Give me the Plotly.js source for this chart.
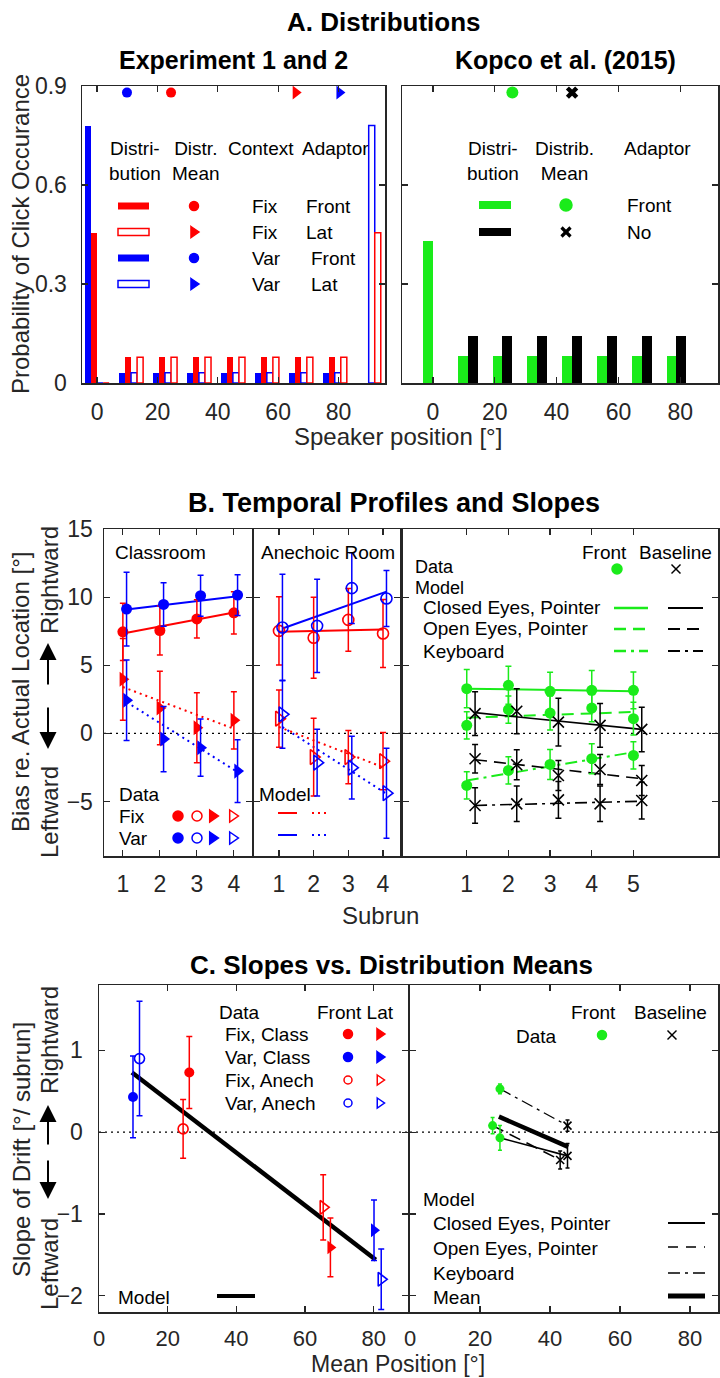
<!DOCTYPE html>
<html><head><meta charset="utf-8">
<script src="https://cdn.plot.ly/plotly-3.0.1.min.js"></script>
<style>body{margin:0;padding:0;background:#fff}#chart{width:720px;height:1378px}</style>
</head><body><div id="chart"></div>
<script>
// ================= DATA =================
// Panel A – Experiment 1 and 2 distributions
const expPositions = [0, 11.25, 22.5, 33.75, 45, 56.25, 67.5, 78.75, 90];
const fixFrontProb = [0.455, 0.078, 0.078, 0.078, 0.078, 0.078, 0.078, 0.078, 0];
const fixLatProb   = [0, 0.078, 0.078, 0.078, 0.078, 0.078, 0.078, 0.078, 0.455];
const varFrontProb = [0.78, 0.031, 0.031, 0.031, 0.031, 0.031, 0.031, 0.031, 0];
const varLatProb   = [0, 0.031, 0.031, 0.031, 0.031, 0.031, 0.031, 0.031, 0.78];
const expMeanNames = ['Fix Front', 'Fix Lat', 'Var Front', 'Var Lat'];
const expMeanPos   = [24.5, 65.8, 9.9, 80.3];
// Panel A – Kopco et al. (2015)
const kopcoPositions = [0, 11.25, 22.5, 33.75, 45, 56.25, 67.5, 78.75];
const kopcoFrontProb = [0.43, 0.0815, 0.0815, 0.0815, 0.0815, 0.0815, 0.0815, 0.0815];
const kopcoNoProb    = [0, 0.143, 0.143, 0.143, 0.143, 0.143, 0.143, 0.143];
const kopcoMeanNames = ['Front', 'No'];
const kopcoMeanPos   = [25.7, 45];
const meanMarkerLevel = 0.88;

// Panel B – Classroom
const subrunsB = [1, 2, 3, 4];
const classFixFront = [7.45, 7.55, 8.4, 8.85];
const classFixFrontErr = [2.1, 1.8, 1.4, 1.55];
const classVarFront = [9.12, 9.46, 10.1, 10.15];
const classVarFrontErr = [2.7, 1.6, 1.5, 1.5];
const classFixLat = [3.97, 1.86, 0.42, 0.96];
const classFixLatErr = [3.0, 2.7, 2.57, 2.1];
const classVarLat = [2.43, -0.42, -1.05, -2.77];
const classVarLatErr = [2.95, 2.4, 2.1, 2.3];
const modelSubrunsB = [1, 4];
const classFixFrontModel = [7.33, 8.87];
const classVarFrontModel = [9.1, 10.07];
const classFixLatModel = [3.4, 0.34];
const classVarLatModel = [2.3, -2.84];
// Panel B – Anechoic room
const anechFixFront = [7.52, 7.02, 8.33, 7.33];
const anechFixFrontErr = [2.5, 2.97, 2.3, 2.5];
const anechVarFront = [7.77, 7.89, 10.66, 9.9];
const anechVarFrontErr = [3.9, 3.43, 2.6, 2.05];
const anechFixLat = [1.08, -1.74, -1.74, -2.04];
const anechFixLatErr = [2.1, 2.85, 1.95, 2.1];
const anechVarLat = [1.4, -2.15, -2.52, -4.39];
const anechVarLatErr = [2.5, 2.45, 2.3, 3.3];
const anechFixFrontModel = [7.45, 7.62];
const anechVarFrontModel = [7.7, 10.4];
const anechFixLatModel = [0.47, -2.48];
const anechVarLatModel = [0.47, -4.43];
// Panel B – Kopco
const subrunsK = [1, 2, 3, 4, 5];
const frontClosed = [3.28, 3.53, 3.09, 3.16, 3.16];
const frontClosedErr = [1.4, 1.4, 1.4, 1.45, 1.35];
const frontOpen = [0.59, 1.74, 1.49, 1.86, 1.08];
const frontOpenErr = [1.0, 1.0, 1.25, 1.0, 1.2];
const frontKey = [-3.82, -2.72, -2.28, -1.86, -1.62];
const frontKeyErr = [1.0, 1.0, 1.1, 1.1, 1.0];
const baseClosed = [1.45, 1.62, 0.83, 0.59, 0.29];
const baseClosedErr = [1.6, 1.65, 1.75, 1.6, 1.63];
const baseOpen = [-1.86, -2.3, -3.09, -2.65, -3.46];
const baseOpenErr = [1.05, 1.1, 1.1, 1.1, 1.1];
const baseKey = [-5.29, -5.17, -4.88, -5.17, -4.93];
const baseKeyErr = [1.3, 1.3, 1.35, 1.3, 1.35];
const modelSubrunsK = [1, 5];
const frontClosedModel = [3.28, 3.1];
const frontOpenModel = [1.15, 1.57];
const frontKeyModel = [-3.46, -1.38];
const baseClosedModel = [1.52, 0.29];
const baseOpenModel = [-1.93, -3.33];
const baseKeyModel = [-5.29, -4.98];

// Panel C – slopes vs. distribution means (Exp 1 and 2)
const slopeGroups = ['Fix, Class', 'Var, Class', 'Fix, Anech', 'Var, Anech'];
const frontMeanPos = [26.3, 9.9, 24.5, 11.8];
const frontSlope = [0.73, 0.43, 0.04, 0.9];
const frontSlopeErr = [0.44, 0.5, 0.36, 0.7];
const latMeanPos = [67.4, 80.1, 65.3, 82.2];
const latSlope = [-1.41, -1.2, -0.92, -1.8];
const latSlopeErr = [0.36, 0.37, 0.4, 0.37];
const modelMeanPos = [9.6, 80.6];
const modelSlope = [0.73, -1.56];
// Panel C – Kopco
const kopcoConds = ['Closed Eyes, Pointer', 'Open Eyes, Pointer', 'Keyboard'];
const kFrontMeanPos = [25.7, 23.6, 25.7];
const kFrontSlope = [-0.07, 0.08, 0.53];
const kFrontSlopeErr = [0.15, 0.1, 0.06];
const kBaseMeanPos = [45, 42.9, 45];
const kBaseSlope = [-0.29, -0.34, 0.08];
const kBaseSlopeErr = [0.15, 0.11, 0.07];
const kMeanLinePos = [25.4, 45.2];
const kMeanLineSlope = [0.19, -0.18];

// ================= STYLE / HELPERS =================
const W = 720, H = 1378;
const FONT = 'Liberation Sans, Arial, Helvetica, sans-serif';
const RED = '#ff0000', BLUE = '#0000ff', GREEN = '#1aeb1a', BLACK = '#000000', AX = '#262626';
const fx = p => p / W;
const fy = p => 1 - p / H;
const DOT = '2px,4px', DASH = '12px,7px', DASHDOT = '12px,5px,3px,5px';

function baseAxis(d, r, extra) {
  return Object.assign({
    domain: d, range: r, showline: true, linecolor: AX, linewidth: 1.5, mirror: 'ticks',
    ticks: 'inside', ticklen: 6, tickwidth: 1.2, tickcolor: AX, showgrid: false, zeroline: false,
    tickfont: {family: FONT, size: 23, color: AX}, fixedrange: true
  }, extra || {});
}

const traces = [];
function err(arr, color, w) {
  return {type: 'data', array: arr, visible: true, color: color, thickness: 1.5, width: w || 3};
}
function pts(xa, ya, x, y, e, color, symbol, size, ew) {
  const open = symbol.indexOf('open') >= 0;
  traces.push({type: 'scatter', mode: 'markers', xaxis: xa, yaxis: ya, x: x, y: y,
    error_y: e ? err(e, color, ew) : undefined,
    marker: {symbol: symbol, color: color, size: size, line: {color: color, width: open ? 1.6 : 0}},
    hoverinfo: 'skip'});
}
function line(xa, ya, x, y, color, width, dash) {
  traces.push({type: 'scatter', mode: 'lines', xaxis: xa, yaxis: ya, x: x, y: y,
    line: {color: color, width: width, dash: dash || 'solid'}, hoverinfo: 'skip'});
}
const shift = (arr, d) => arr.map(v => v + d);

// ---------- Panel A bars ----------
function bars(xa, ya, x, y, color, filled, width, offset) {
  traces.push({type: 'bar', xaxis: xa, yaxis: ya, x: x, y: y, width: width, offset: offset,
    marker: {color: filled ? color : 'white', line: {color: color, width: filled ? 0 : 1.5}},
    hoverinfo: 'skip'});
}
bars('x', 'y', expPositions, varFrontProb, BLUE, true, 2, -4);
bars('x', 'y', expPositions, fixFrontProb, RED, true, 2, -2);
bars('x', 'y', expPositions, varLatProb, BLUE, false, 2, 0);
bars('x', 'y', expPositions, fixLatProb, RED, false, 2, 2);
const expMeanStyle = {
  'Fix Front': [RED, 'circle', 10], 'Fix Lat': [RED, 'triangle-right', 12],
  'Var Front': [BLUE, 'circle', 10], 'Var Lat': [BLUE, 'triangle-right', 12]
};
expMeanNames.forEach((n, i) => {
  const s = expMeanStyle[n];
  pts('x', 'y', [expMeanPos[i]], [meanMarkerLevel], null, s[0], s[1], s[2]);
});
bars('x2', 'y2', kopcoPositions, kopcoFrontProb, GREEN, true, 3.2, -3.2);
bars('x2', 'y2', kopcoPositions, kopcoNoProb, BLACK, true, 3.2, 0);
const kopcoMeanStyle = {'Front': [GREEN, 'circle', 12], 'No': [BLACK, 'x', 11]};
kopcoMeanNames.forEach((n, i) => {
  const s = kopcoMeanStyle[n];
  pts('x2', 'y2', [kopcoMeanPos[i]], [meanMarkerLevel], null, s[0], s[1], s[2]);
});

// ---------- Panel B ----------
const jit = 0.1;
line('x3', 'y3', modelSubrunsB, classFixFrontModel, RED, 2);
line('x3', 'y3', shift(modelSubrunsB, jit), classVarFrontModel, BLUE, 2);
line('x3', 'y3', modelSubrunsB, classFixLatModel, RED, 2, DOT);
line('x3', 'y3', shift(modelSubrunsB, jit), classVarLatModel, BLUE, 2, DOT);
pts('x3', 'y3', subrunsB, classFixFront, classFixFrontErr, RED, 'circle', 11);
pts('x3', 'y3', shift(subrunsB, jit), classVarFront, classVarFrontErr, BLUE, 'circle', 11);
pts('x3', 'y3', subrunsB, classFixLat, classFixLatErr, RED, 'triangle-right', 13);
pts('x3', 'y3', shift(subrunsB, jit), classVarLat, classVarLatErr, BLUE, 'triangle-right', 13);

line('x4', 'y4', modelSubrunsB, anechFixFrontModel, RED, 2);
line('x4', 'y4', shift(modelSubrunsB, jit), anechVarFrontModel, BLUE, 2);
line('x4', 'y4', modelSubrunsB, anechFixLatModel, RED, 2, DOT);
line('x4', 'y4', shift(modelSubrunsB, jit), anechVarLatModel, BLUE, 2, DOT);
pts('x4', 'y4', subrunsB, anechFixFront, anechFixFrontErr, RED, 'circle-open', 11);
pts('x4', 'y4', shift(subrunsB, jit), anechVarFront, anechVarFrontErr, BLUE, 'circle-open', 11);
pts('x4', 'y4', subrunsB, anechFixLat, anechFixLatErr, RED, 'triangle-right-open', 13);
pts('x4', 'y4', shift(subrunsB, jit), anechVarLat, anechVarLatErr, BLUE, 'triangle-right-open', 13);

const jitK = 0.2;
line('x5', 'y5', modelSubrunsK, frontClosedModel, GREEN, 2);
line('x5', 'y5', modelSubrunsK, frontOpenModel, GREEN, 2, DASH);
line('x5', 'y5', modelSubrunsK, frontKeyModel, GREEN, 2, DASHDOT);
line('x5', 'y5', shift(modelSubrunsK, jitK), baseClosedModel, BLACK, 1.6);
line('x5', 'y5', shift(modelSubrunsK, jitK), baseOpenModel, BLACK, 1.6, DASH);
line('x5', 'y5', shift(modelSubrunsK, jitK), baseKeyModel, BLACK, 1.6, DASHDOT);
pts('x5', 'y5', subrunsK, frontClosed, frontClosedErr, GREEN, 'circle', 11);
pts('x5', 'y5', subrunsK, frontOpen, frontOpenErr, GREEN, 'circle', 11);
pts('x5', 'y5', subrunsK, frontKey, frontKeyErr, GREEN, 'circle', 11);
pts('x5', 'y5', shift(subrunsK, jitK), baseClosed, baseClosedErr, BLACK, 'x-thin-open', 11);
pts('x5', 'y5', shift(subrunsK, jitK), baseOpen, baseOpenErr, BLACK, 'x-thin-open', 11);
pts('x5', 'y5', shift(subrunsK, jitK), baseKey, baseKeyErr, BLACK, 'x-thin-open', 11);

// ---------- Panel C ----------
line('x6', 'y6', modelMeanPos, modelSlope, BLACK, 4.5);
const groupStyle = {
  'Fix, Class': [RED, 'circle', 'triangle-right'],
  'Var, Class': [BLUE, 'circle', 'triangle-right'],
  'Fix, Anech': [RED, 'circle-open', 'triangle-right-open'],
  'Var, Anech': [BLUE, 'circle-open', 'triangle-right-open']
};
slopeGroups.forEach((g, i) => {
  const s = groupStyle[g];
  pts('x6', 'y6', [frontMeanPos[i]], [frontSlope[i]], [frontSlopeErr[i]], s[0], s[1], 10);
  pts('x6', 'y6', [latMeanPos[i]], [latSlope[i]], [latSlopeErr[i]], s[0], s[2], 12);
});
const condDash = {'Closed Eyes, Pointer': ['solid', 1.6], 'Open Eyes, Pointer': [DASH, 1.6], 'Keyboard': [DASHDOT, 1.3]};
kopcoConds.forEach((c, i) => {
  line('x7', 'y7', [kFrontMeanPos[i], kBaseMeanPos[i]], [kFrontSlope[i], kBaseSlope[i]], BLACK, condDash[c][1], condDash[c][0]);
});
line('x7', 'y7', kMeanLinePos, kMeanLineSlope, BLACK, 4.5);
pts('x7', 'y7', kFrontMeanPos, kFrontSlope, kFrontSlopeErr, GREEN, 'circle', 9, 2);
pts('x7', 'y7', kBaseMeanPos, kBaseSlope, kBaseSlopeErr, BLACK, 'x-thin-open', 8, 2);

// ================= ANNOTATIONS & LEGEND DECORATIONS =================
const ann = [];
const shapes = [];
function txt(t, x, y, size, opts) {
  ann.push(Object.assign({text: t, xref: 'paper', yref: 'paper', x: fx(x), y: fy(y),
    xanchor: 'left', yanchor: 'middle', showarrow: false,
    font: {family: FONT, size: size || 19, color: '#000'}}, opts || {}));
}
function title(t, x, y, size) {
  txt('<b>' + t + '</b>', x, y, size, {xanchor: 'center'});
}
function vtxt(t, x, y, size) {
  txt(t, x, y, size, {xanchor: 'center', textangle: -90, font: {family: FONT, size: size, color: AX}});
}
function arrow(x, yHead, yTail) {
  ann.push({text: '', xref: 'paper', yref: 'paper', x: fx(x), y: fy(yHead), ax: 0, ay: yTail - yHead,
    showarrow: true, arrowhead: 2, arrowsize: 1.7, arrowwidth: 2, arrowcolor: '#000'});
}
function lseg(x0, x1, y, color, width, dash) {
  shapes.push({type: 'line', xref: 'paper', yref: 'paper', x0: fx(x0), x1: fx(x1), y0: fy(y), y1: fy(y),
    line: {color: color, width: width, dash: dash || 'solid'}});
}
function lrect(x0, x1, y, h, color, filled) {
  shapes.push({type: 'rect', xref: 'paper', yref: 'paper', x0: fx(x0), x1: fx(x1), y0: fy(y + h / 2), y1: fy(y - h / 2),
    fillcolor: filled ? color : 'white', line: {color: color, width: filled ? 0 : 1.5}});
}
function lcirc(cx, cy, r, color, filled) {
  shapes.push({type: 'circle', xref: 'paper', yref: 'paper', x0: fx(cx - r), x1: fx(cx + r), y0: fy(cy + r), y1: fy(cy - r),
    fillcolor: filled ? color : 'white', line: {color: color, width: 1.5}});
}
function ltri(cx, cy, s, color, filled) {
  const p = `M ${fx(cx - 0.55 * s)} ${fy(cy - s)} L ${fx(cx + 0.9 * s)} ${fy(cy)} L ${fx(cx - 0.55 * s)} ${fy(cy + s)} Z`;
  shapes.push({type: 'path', xref: 'paper', yref: 'paper', path: p,
    fillcolor: filled ? color : 'white', line: {color: color, width: 1.5}});
}
function lx(cx, cy, s, color, w) {
  shapes.push({type: 'line', xref: 'paper', yref: 'paper', x0: fx(cx - s), x1: fx(cx + s), y0: fy(cy - s), y1: fy(cy + s), line: {color: color, width: w}});
  shapes.push({type: 'line', xref: 'paper', yref: 'paper', x0: fx(cx - s), x1: fx(cx + s), y0: fy(cy + s), y1: fy(cy - s), line: {color: color, width: w}});
}
function zeroLine(xa, ya) {
  shapes.push({type: 'line', xref: xa + ' domain', x0: 0, x1: 1, yref: ya, y0: 0, y1: 0,
    line: {color: '#000', width: 1.2, dash: DOT}, layer: 'below'});
}

// Titles
title('A. Distributions', 384, 22, 26);
title('Experiment 1 and 2', 233, 60, 25);
title('Kopco et al. (2015)', 565, 60, 25);
title('B. Temporal Profiles and Slopes', 394, 503, 27);
title('C. Slopes vs. Distribution Means', 392, 965, 26);

// Axis labels
vtxt('Probability of Click Occurance', 21, 234, 24);
txt('Speaker position [°]', 398, 436, 24, {xanchor: 'center', font: {family: FONT, size: 24, color: AX}});
vtxt('Bias re. Actual Location [°]', 21, 692, 24);
vtxt('Rightward', 49, 580, 24);
vtxt('Leftward', 49, 812, 24);
arrow(48, 643, 686);
arrow(48, 749, 706);
txt('Subrun', 380, 915, 24, {xanchor: 'center', font: {family: FONT, size: 24, color: AX}});
vtxt('Slope of Drift [°/ subrun]', 21, 1150, 24);
vtxt('Rightward', 49, 1040, 24);
vtxt('Leftward', 49, 1264, 24);
arrow(48, 1105, 1146);
arrow(48, 1199, 1159);
txt('Mean Position [°]', 398, 1364, 23, {xanchor: 'center', font: {family: FONT, size: 23, color: AX}});

// Panel A legend (Experiment 1 and 2)
txt('Distri-<br>bution', 107, 161);
txt('Distr.<br>Mean', 170, 161);
txt('Context', 226, 148);
txt('Adaptor', 300, 148);
const aRows = [206, 232, 258, 284];
lrect(118, 149, aRows[0], 7, RED, true);
lrect(118, 149, aRows[1], 7, RED, false);
lrect(118, 149, aRows[2], 7, BLUE, true);
lrect(118, 149, aRows[3], 7, BLUE, false);
lcirc(194, aRows[0], 4.5, RED, true);
ltri(194, aRows[1], 5.5, RED, true);
lcirc(194, aRows[2], 4.5, BLUE, true);
ltri(194, aRows[3], 5.5, BLUE, true);
txt('Fix', 250, aRows[0]); txt('Front', 304, aRows[0]);
txt('Fix', 250, aRows[1]); txt('Lat', 304, aRows[1]);
txt('Var', 250, aRows[2]); txt('Front', 309, aRows[2]);
txt('Var', 250, aRows[3]); txt('Lat', 309, aRows[3]);
// Panel A legend (Kopco)
txt('Distri-<br>bution', 465, 161);
txt('Distrib.<br>Mean', 533, 161);
txt('Adaptor', 622, 148);
lrect(479, 511, 205, 8, GREEN, true);
lrect(479, 511, 232, 8, BLACK, true);
lcirc(566, 205, 6, GREEN, true);
lx(566, 232, 4.5, BLACK, 3.2);
txt('Front', 625, 205);
txt('No', 625, 232);

// Panel B legends
txt('Classroom', 113, 552);
txt('Anechoic Room', 259, 552);
txt('Data', 117, 795);
txt('Fix', 117, 816);
txt('Var', 117, 838);
lcirc(178, 816, 5, RED, true); lcirc(197, 816, 5, RED, false);
ltri(213, 816, 6, RED, true); ltri(233, 816, 6, RED, false);
lcirc(178, 838, 5, BLUE, true); lcirc(197, 838, 5, BLUE, false);
ltri(213, 838, 6, BLUE, true); ltri(233, 838, 6, BLUE, false);
txt('Model', 257, 795);
lseg(278, 297, 813, RED, 2); lseg(312, 328, 813, RED, 2, DOT);
lseg(278, 297, 835, BLUE, 2); lseg(312, 328, 835, BLUE, 2, DOT);

txt('Front', 604, 552, 19, {xanchor: 'center'});
txt('Baseline', 675, 552, 19, {xanchor: 'center'});
txt('Data', 413, 567, 18);
lcirc(617, 569, 5, GREEN, true);
lx(676, 569, 4.5, BLACK, 1.5);
txt('Model', 413, 588, 18);
txt('Closed Eyes, Pointer', 421, 608);
txt('Open Eyes, Pointer', 421, 629);
txt('Keyboard', 421, 651);
lseg(614, 648, 608, GREEN, 2.5); lseg(668, 703, 608, BLACK, 1.8);
lseg(614, 648, 629, GREEN, 2.5, DASH); lseg(668, 703, 629, BLACK, 1.8, DASH);
lseg(614, 648, 651, GREEN, 2.5, DASHDOT); lseg(668, 703, 651, BLACK, 1.8, DASHDOT);

// Panel C legends
txt('Data', 217, 1012);
txt('Front Lat', 315, 1012);
const cRows = [1034, 1057, 1080, 1103];
txt('Fix, Class', 223, cRows[0]);
txt('Var, Class', 223, cRows[1]);
txt('Fix, Anech', 223, cRows[2]);
txt('Var, Anech', 223, cRows[3]);
lcirc(348, cRows[0], 4.5, RED, true); ltri(380, cRows[0], 5.5, RED, true);
lcirc(348, cRows[1], 4.5, BLUE, true); ltri(380, cRows[1], 5.5, BLUE, true);
lcirc(348, cRows[2], 4, RED, false); ltri(380, cRows[2], 5, RED, false);
lcirc(348, cRows[3], 4, BLUE, false); ltri(380, cRows[3], 5, BLUE, false);
txt('Model', 116, 1297);
lseg(217, 255, 1296, BLACK, 4);

txt('Front', 593, 1012, 19, {xanchor: 'center'});
txt('Baseline', 670, 1012, 19, {xanchor: 'center'});
txt('Data', 536, 1036, 19, {xanchor: 'center'});
lcirc(602, 1035, 4.5, GREEN, true);
lx(672, 1035, 4.5, BLACK, 1.5);
txt('Model', 421, 1199);
txt('Closed Eyes, Pointer', 431, 1223);
txt('Open Eyes, Pointer', 431, 1248);
txt('Keyboard', 431, 1273);
txt('Mean', 431, 1297);
lseg(668, 705, 1223, BLACK, 2);
lseg(668, 705, 1247, BLACK, 1.6, '10px,8px');
lseg(668, 705, 1273, BLACK, 1.4, DASHDOT);
lseg(668, 705, 1296, BLACK, 5);

['x3', 'x4', 'x5', 'x6', 'x7'].forEach(xa => zeroLine(xa, 'y' + xa.slice(1)));

// ================= LAYOUT =================
const yA = [fy(383), fy(86)], yB = [fy(856), fy(529)], yC = [fy(1312), fy(985)];
const cTick = {family: FONT, size: 22, color: AX};
const layout = {
  width: W, height: H, margin: {l: 0, r: 0, t: 0, b: 0},
  paper_bgcolor: 'white', plot_bgcolor: 'rgba(0,0,0,0)', showlegend: false,
  barmode: 'overlay', bargap: 0,
  xaxis: baseAxis([fx(82), fx(385)], [-5, 95.4], {anchor: 'y', tickvals: [0, 20, 40, 60, 80], ticklabelstandoff: 8}),
  yaxis: baseAxis(yA, [0, 0.9], {anchor: 'x', tickvals: [0, 0.3, 0.6, 0.9], ticklabelstandoff: 9}),
  xaxis2: baseAxis([fx(402), fx(718)], [-10, 92.2], {anchor: 'y2', tickvals: [0, 20, 40, 60, 80], ticklabelstandoff: 8}),
  yaxis2: baseAxis(yA, [0, 0.9], {anchor: 'x2', tickvals: [0, 0.3, 0.6, 0.9], showticklabels: false}),
  xaxis3: baseAxis([fx(104), fx(252)], [0.49, 4.49], {anchor: 'y3', tickvals: subrunsB, ticklabelstandoff: 7}),
  yaxis3: baseAxis(yB, [-9, 15], {anchor: 'x3', tickvals: [-5, 0, 5, 10, 15], ticklabelstandoff: 5}),
  xaxis4: baseAxis([fx(254), fx(400)], [0.28, 4.49], {anchor: 'y4', tickvals: subrunsB, ticklabelstandoff: 7}),
  yaxis4: baseAxis(yB, [-9, 15], {anchor: 'x4', tickvals: [-5, 0, 5, 10, 15], showticklabels: false}),
  xaxis5: baseAxis([fx(403), fx(718)], [-0.53, 7.03], {anchor: 'y5', tickvals: subrunsK, ticklabelstandoff: 7}),
  yaxis5: baseAxis(yB, [-9, 15], {anchor: 'x5', tickvals: [-5, 0, 5, 10, 15], showticklabels: false}),
  xaxis6: baseAxis([fx(99), fx(408)], [0, 90], {anchor: 'y6', tickvals: [0, 20, 40, 60, 80], ticklabelstandoff: 6, tickfont: cTick}),
  yaxis6: baseAxis(yC, [-2.2, 1.8], {anchor: 'x6', tickvals: [-2, -1, 0, 1], ticklabelstandoff: 10}),
  xaxis7: baseAxis([fx(410), fx(718)], [0, 88], {anchor: 'y7', tickvals: [0, 20, 40, 60, 80], ticklabelstandoff: 6, tickfont: cTick}),
  yaxis7: baseAxis(yC, [-2.2, 1.8], {anchor: 'x7', tickvals: [-2, -1, 0, 1], showticklabels: false}),
  annotations: ann,
  shapes: shapes
};
Plotly.newPlot('chart', traces, layout, {staticPlot: true, displayModeBar: false});
</script>
</body></html>
